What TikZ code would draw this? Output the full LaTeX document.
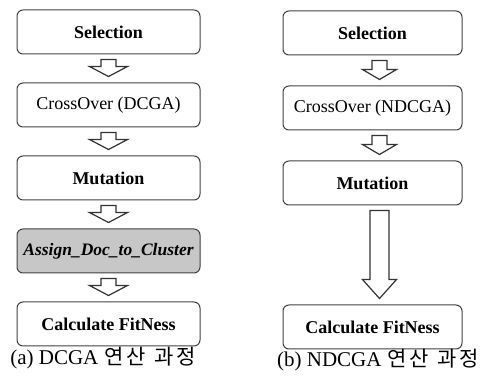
\documentclass[tikz,border=0pt]{standalone}
\usepackage{fontspec}
\setmainfont{Liberation Serif}
\newfontfamily\serifface{Liberation Serif}
\newfontfamily\kofont{Noto Sans CJK KR}
\usetikzlibrary{positioning,calc}

% hollow block arrow between two boxes: from, to, x offset, shaft half width, head half width, head length
\newcommand{\flowarrow}[6]{%
  \draw[flow arrow] let \p1=($(#1.south)+(#3,0)$), \p2=($(#2.north)+(#3,0)$) in
    (\x1-#4pt,\y1-5pt) -- (\x1+#4pt,\y1-5pt) -- (\x1+#4pt,\y2+6pt+#6pt)
    -- (\x1+#5pt,\y2+6pt+#6pt) -- (\x1,\y2+6pt) -- (\x1-#5pt,\y2+6pt+#6pt)
    -- (\x1-#4pt,\y2+6pt+#6pt) -- cycle;}

\begin{document}
\begin{tikzpicture}[x=1pt,y=-1pt,node distance=28pt,
  stage/.style={draw=black!75,line width=1pt,rounded corners=6pt,minimum height=44pt,
    inner sep=2pt,font=\serifface\fontsize{18}{20}\selectfont},
  flow arrow/.style={draw=black!80,line width=1.2pt,fill=white,line join=miter},
  caption/.style={font=\serifface\fontsize{21}{24}\selectfont}]
\useasboundingbox (0,0) rectangle (483,379);

% (a) DCGA
\node[stage,minimum width=183pt] (sel a) at (108.5,32) {\bfseries Selection};
\node[stage,minimum width=183pt,below=of sel a] (cross a) {CrossOver (DCGA)};
\node[stage,minimum width=183pt,below=of cross a] (mut a) {\bfseries Mutation};
\node[stage,minimum width=183pt,below=of mut a,fill=black!22] (assign a)
  {\fontsize{17.5}{20}\selectfont\bfseries\itshape Assign\_Doc\_to\_Cluster};
\node[stage,minimum width=183pt,below=of assign a] (calc a) {\bfseries Calculate FitNess};

\flowarrow{sel a}{cross a}{0}{7.5}{19}{10}
\flowarrow{cross a}{mut a}{0}{7.5}{19}{10}
\flowarrow{mut a}{assign a}{0}{7.5}{19}{10}
\flowarrow{assign a}{calc a}{0}{7.5}{19}{10}

\node[caption] (cap a) at (103,358) {(a) DCGA\hspace{6pt}{\kofont 연\hspace{3pt}산\hspace{8pt}과\hspace{3pt}정}};

% (b) NDCGA
\node[stage,minimum width=179pt] (sel b) at (372.5,33) {\bfseries Selection};
\node[stage,minimum width=179pt,below=30pt of sel b] (cross b) {CrossOver (NDCGA)};
\node[stage,minimum width=179pt,below=30pt of cross b] (mut b) {\bfseries Mutation};
\node[stage,minimum width=179pt,below=99pt of mut b] (calc b) {\bfseries Calculate FitNess};

\flowarrow{sel b}{cross b}{7}{7.5}{17}{10}
\flowarrow{cross b}{mut b}{7}{7.5}{17}{10}
\flowarrow{mut b}{calc b}{7}{9.5}{17}{19}

\node[caption] (cap b) at (378,360) {(b) NDCGA\hspace{6pt}{\kofont 연\hspace{3pt}산\hspace{8pt}과\hspace{3pt}정}};
\end{tikzpicture}
\end{document}
